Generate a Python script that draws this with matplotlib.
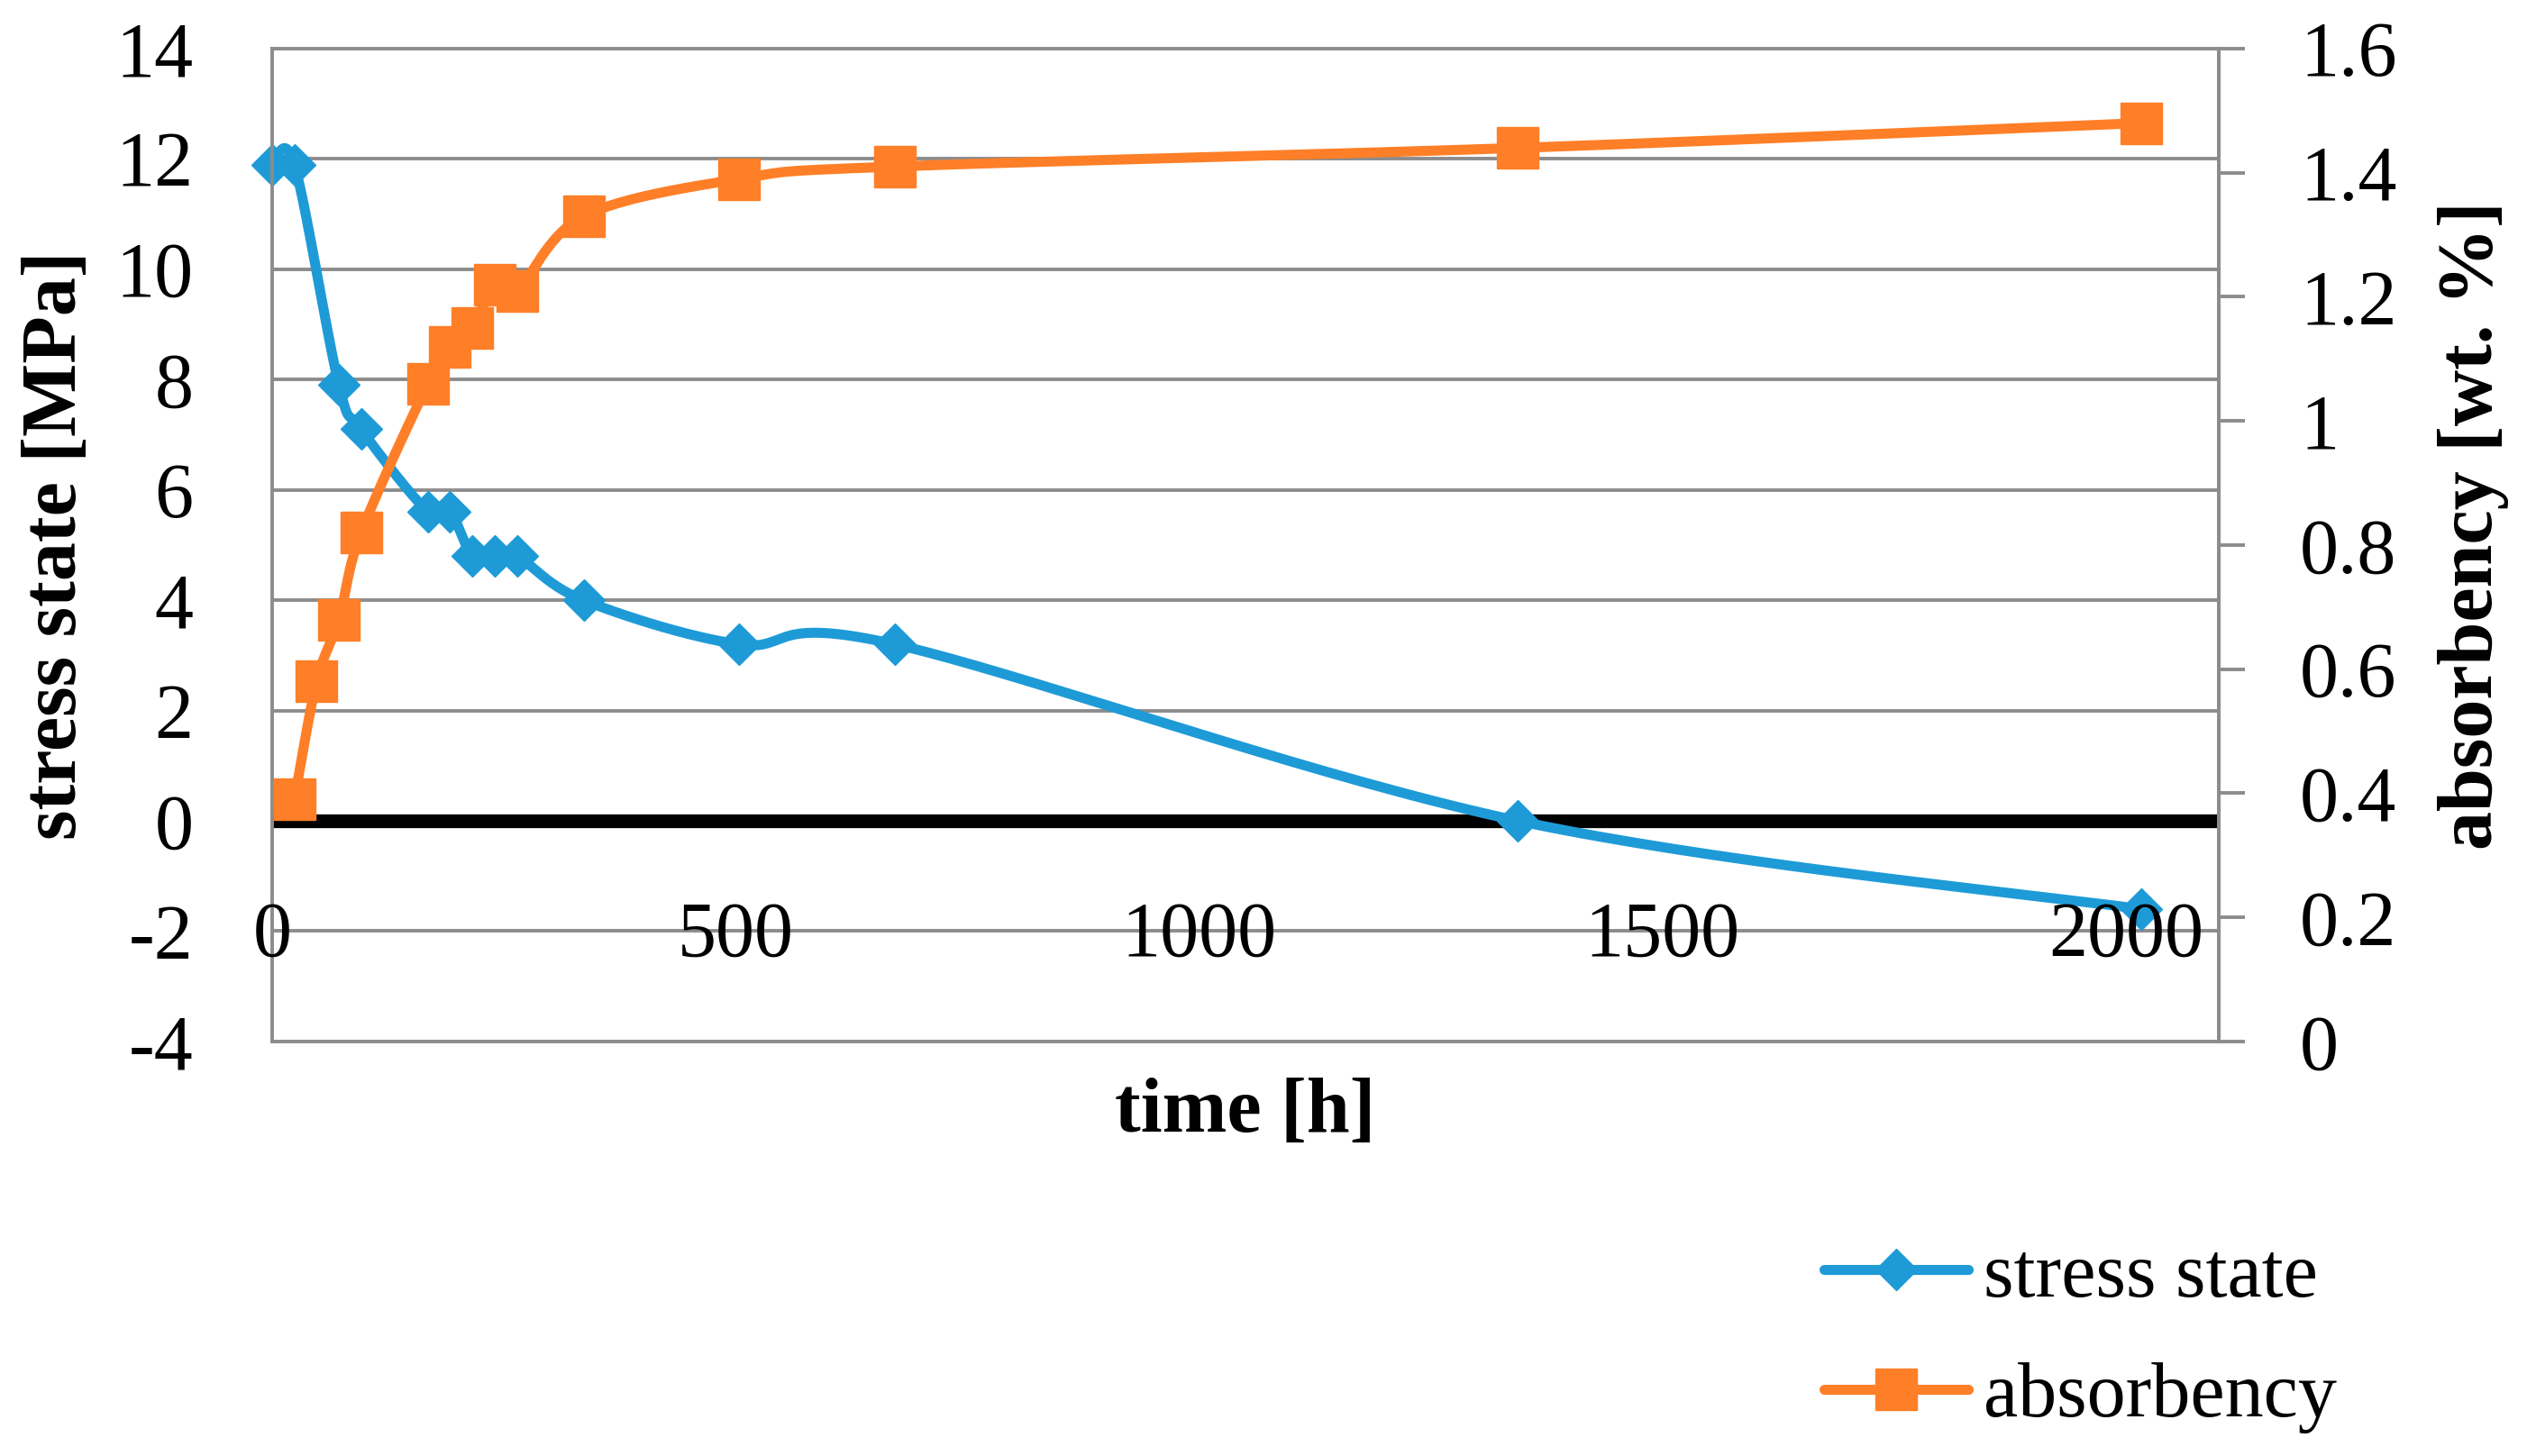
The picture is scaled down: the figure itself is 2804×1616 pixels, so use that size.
import numpy as np
import matplotlib.pyplot as plt
from matplotlib.lines import Line2D
from matplotlib.ticker import FuncFormatter

plt.rcParams['font.family'] = ['Liberation Serif', 'DejaVu Serif']
plt.rcParams['axes.unicode_minus'] = False

# values
hours_stress = [0, 24, 72, 96, 168, 192, 216, 240, 264, 336, 504, 672, 1344, 2016]
stress_mpa = [11.9, 11.9, 7.9, 7.1, 5.6, 5.6, 4.8, 4.8, 4.8, 4.0, 3.2, 3.2, 0.0, -1.6]
hours_abs = [24, 48, 72, 96, 168, 192, 216, 240, 264, 336, 504, 672, 1344, 2016]
absorbency = [0.39, 0.58, 0.68, 0.82, 1.06, 1.12, 1.15, 1.22, 1.21, 1.33, 1.39, 1.41, 1.44, 1.48]

x_ticks = [0, 500, 1000, 1500, 2000]
stress_ticks = np.arange(-4, 15, 2)
abs_ticks = np.arange(0, 1.61, 0.2)

BLUE = '#1E9BD7'
ORANGE = '#FE7F27'
GRID = '#8C8C8C'
FS = 62
LW = 8


def smooth(x, y, n=40):
    """ Excel style smoothed line: Catmull-Rom segments drawn as cubic Bezier """
    p = np.column_stack([x, y]).astype(float)
    ext = np.vstack([p[0], p, p[-1]])
    t = np.linspace(0, 1, n)[:, None]
    out = []
    for i in range(len(p) - 1):
        p0, p3 = ext[i + 1], ext[i + 2]
        c1 = p0 + (ext[i + 2] - ext[i]) / 6
        c2 = p3 - (ext[i + 3] - ext[i + 1]) / 6
        seg = (1 - t) ** 3 * p0 + 3 * (1 - t) ** 2 * t * c1 + 3 * (1 - t) * t ** 2 * c2 + t ** 3 * p3
        out.append(seg if i == 0 else seg[1:])
    out = np.vstack(out)
    return out[:, 0], out[:, 1]


fig = plt.figure(figsize=(28.04, 16.16), dpi=100)
ax = fig.add_axes([0.1077, 0.2847, 0.7703, 0.6819])
ax2 = ax.twinx()

ax.set_xlim(0, 2100)
ax.set_ylim(-4, 14)
ax2.set_ylim(0, 1.6)

# grid + axes styling
ax.set_yticks(stress_ticks)
ax.set_xticks(x_ticks)
ax2.set_yticks(abs_ticks)
ax.yaxis.grid(True, color=GRID, lw=2.8)
ax.set_axisbelow(True)
ax.xaxis.set_zorder(2.5)
fmt = FuncFormatter(lambda v, pos: f'{v:g}')
ax.yaxis.set_major_formatter(fmt)
ax2.yaxis.set_major_formatter(FuncFormatter(lambda v, pos: f'{round(v, 1):g}'))

for s in ax.spines.values():
    s.set_color(GRID)
    s.set_linewidth(2.8)
for s in ax2.spines.values():
    s.set_visible(False)
ax2.spines['right'].set_visible(True)
ax2.spines['right'].set_color(GRID)
ax2.spines['right'].set_linewidth(2.8)

ax.tick_params(axis='y', length=0, pad=63, labelsize=FS)
ax.tick_params(axis='x', length=0, pad=-112, labelsize=FS)
ax2.tick_params(axis='y', length=21, width=2.8, color=GRID, direction='out', pad=44, labelsize=FS)

# horizontal axis line at zero
ax.axhline(0, color='black', lw=11, zorder=1.6, solid_capstyle='butt')

# stress state
sx, sy = smooth(hours_stress, stress_mpa)
ax.plot(sx, sy, color=BLUE, lw=LW, zorder=2, solid_capstyle='round')
ax.plot(hours_stress, stress_mpa, 'D', ms=23, color=BLUE, zorder=2.2, clip_on=False)

# absorbency
axx, ayy = smooth(hours_abs, absorbency)
ax2.plot(axx, ayy, color=ORANGE, lw=LW, zorder=2, solid_capstyle='round')
ax2.plot(hours_abs, absorbency, 's', ms=33, color=ORANGE, zorder=2.2, clip_on=False)

# labels
ax.set_xlabel('time [h]', fontsize=FS, fontweight='bold', va='center')
ax.xaxis.set_label_coords(0.5, -0.0726)
ax.set_ylabel('stress state [MPa]', fontsize=FS, fontweight='bold', va='center')
ax.yaxis.set_label_coords(-0.1106, 0.5)
ax2.set_ylabel('absorbency [wt. %]', fontsize=FS, fontweight='bold', va='center', ha='center',
               rotation=90, rotation_mode='anchor')
ax2.yaxis.set_label_coords(1.131, 0.52)

# legend outside, bottom right
h1 = Line2D([], [], color=BLUE, lw=LW, marker='D', ms=23, solid_capstyle='round')
h2 = Line2D([], [], color=ORANGE, lw=LW, marker='s', ms=33, solid_capstyle='round')
fig.legend([h1, h2], ['stress state', 'absorbency'], loc='center left', bbox_to_anchor=(0.722, 0.081),
           frameon=False, fontsize=FS, handlelength=1.85, handletextpad=0.2, labelspacing=0.62,
           borderpad=0, borderaxespad=0)

fig.savefig('out.png', dpi=100)
